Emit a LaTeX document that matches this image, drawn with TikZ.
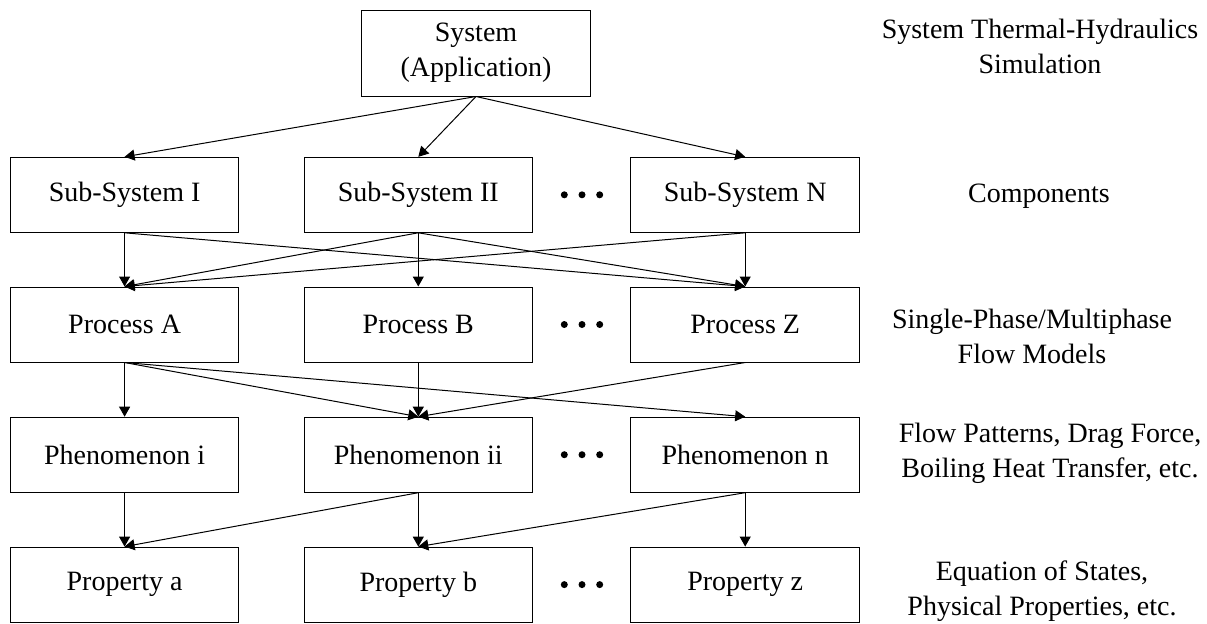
\documentclass[tikz,border=0pt]{standalone}
\usepackage{fontspec}
\setmainfont{Liberation Serif}
\usepackage{xcolor}
\usepackage{tikz}
\usetikzlibrary{positioning,arrows.meta}

\begin{document}
\begin{tikzpicture}[x=0.5pt,y=-0.5pt,
		box/.style={rectangle, draw, line width=0.5pt, minimum width=114.25pt, minimum height=37.5pt, inner sep=0pt, font=\fontsize{14}{17.5}\selectfont},
		note/.style={align=center, inner sep=0pt, font=\fontsize{14}{17.5}\selectfont},
		link/.style={-{Triangle[length=5pt,width=5.5pt]}, line width=0.5pt}]
		\useasboundingbox (0,0) rectangle (1207,623);

		\node[box, minimum height=43pt, align=center] (sys) at (476,53) {System\\(Application)};

		\node[box] (s1) at (124.6,194.8) {Sub-System I};
		\node[box] (s2) at (418.3,194.8) {Sub-System II};
		\node[box] (sn) at (745.2,194.8) {Sub-System N};

		\node[box] (pa) at (124.6,324.5) {Process A};
		\node[box] (pb) at (418.3,324.5) {Process B};
		\node[box] (pz) at (745.2,324.5) {Process Z};

		\node[box] (ph1) at (124.6,454.7) {Phenomenon i};
		\node[box] (ph2) at (418.3,454.7) {Phenomenon ii};
		\node[box] (phn) at (745.2,454.7) {Phenomenon n};

		\node[box] (pra) at (124.6,584.6) {Property a};
		\node[box] (prb) at (418.3,584.6) {Property b};
		\node[box] (prz) at (745.2,584.6) {Property z};

		% dots between the second and third column
		\foreach \y in {194.8,324.5,454.7,584.6}
			\foreach \x in {564.3,582,599.7}
				\fill (\x,\y) circle[radius=1.75pt];

		\node[note] (simlabel) at (1040,46) {System Thermal-Hydraulics\\Simulation};
		\node[note] (complabel) at (1039,196) {Components};
		\node[note] (flowlabel) at (1032,336) {Single-Phase/Multiphase\\Flow Models};
		\node[note] (phenlabel) at (1050,453) {Flow Patterns, Drag Force,\\Boiling Heat Transfer, etc.};
		\node[note] (proplabel) at (1042,591) {Equation of States,\\Physical Properties, etc.};

		\draw[link] (sys.south) -- (s1.north);
		\draw[link] (sys.south) -- (s2.north);
		\draw[link] (sys.south) -- (sn.north);

		\draw[link] (s1.south) -- (pa.north);
		\draw[link] (s1.south) -- (pz.north);
		\draw[link] (s2.south) -- (pa.north);
		\draw[link] (s2.south) -- (pb.north);
		\draw[link] (s2.south) -- (pz.north);
		\draw[link] (sn.south) -- (pa.north);
		\draw[link] (sn.south) -- (pz.north);

		\draw[link] (pa.south) -- (ph1.north);
		\draw[link] (pa.south) -- (ph2.north);
		\draw[link] (pa.south) -- (phn.north);
		\draw[link] (pb.south) -- (ph2.north);
		\draw[link] (pz.south) -- (ph2.north);

		\draw[link] (ph1.south) -- (pra.north);
		\draw[link] (ph2.south) -- (pra.north);
		\draw[link] (ph2.south) -- (prb.north);
		\draw[link] (phn.south) -- (prb.north);
		\draw[link] (phn.south) -- (prz.north);
	\end{tikzpicture}
\end{document}
